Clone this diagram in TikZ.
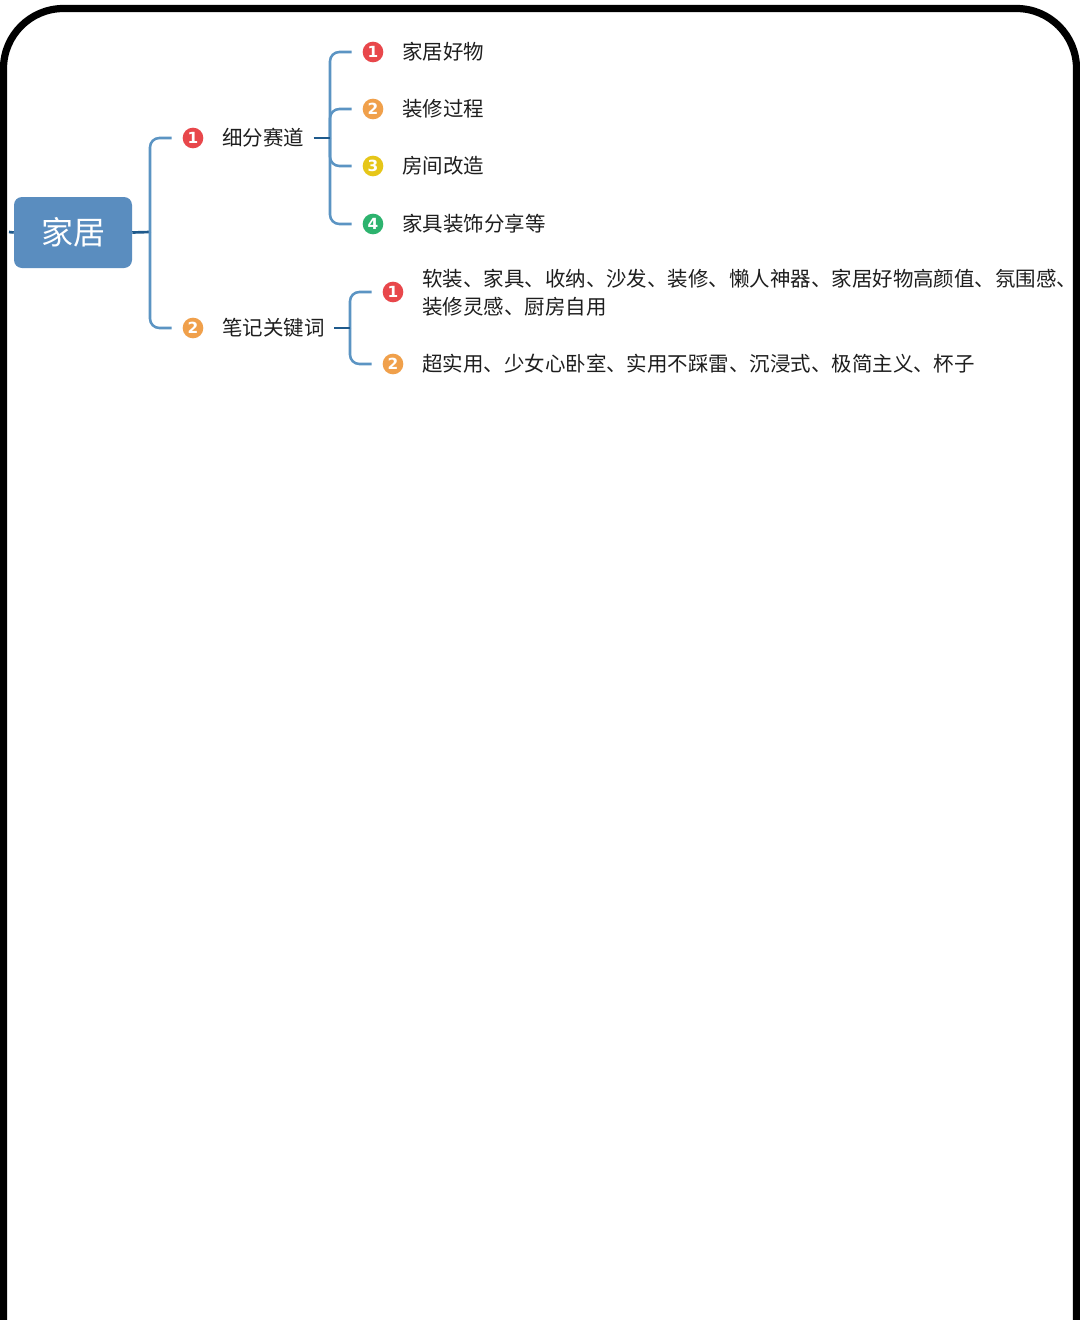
\documentclass[tikz,border=0pt]{standalone}
\usepackage{fontspec}
\setmainfont{Noto Sans CJK SC}
\newfontfamily\digitfont{DejaVu Sans}
\definecolor{rootfill}{HTML}{5A8DBF}
\definecolor{brblue}{HTML}{5B94C3}
\definecolor{stubblue}{HTML}{1F5A8C}
\definecolor{bred}{HTML}{E8474B}
\definecolor{borange}{HTML}{F0A04B}
\definecolor{byellow}{HTML}{E6C619}
\definecolor{bgreen}{HTML}{2DB36E}
\definecolor{txtcol}{HTML}{1E1E1E}
\begin{document}
\begin{tikzpicture}[x=0.75pt,y=-0.75pt,
  txt/.style={anchor=west,inner sep=0pt,text=txtcol,font=\fontsize{15.35pt}{21pt}\selectfont},
  badge/.style={circle,fill=#1,minimum size=15.5pt,inner sep=0pt,text=white,font=\digitfont\bfseries\fontsize{11.5pt}{11.5pt}\selectfont},
  rootbox/.style={rounded corners=6pt,fill=rootfill,minimum width=88.5pt,minimum height=53.25pt,inner sep=0pt,text=white,font=\fontsize{24pt}{28pt}\selectfont},
  br/.style={draw=brblue,line width=1.9pt,rounded corners=7pt},
  stub/.style={draw=stubblue,line width=2pt},
  frame/.style={draw=black,line width=5.4pt,rounded corners=45pt}]
\useasboundingbox (0,0) rectangle (1080,1320);
\clip (0,0) rectangle (1080,1320);
\fill[white] (0,0) rectangle (1080,1320);

% root
\node[rootbox] (root) at (73,232.5) {家居};
\coordinate (lstub) at (9,232);
\draw[stub] (root.west) -- (lstub);

% level 1
\node[badge=bred] (b1) at (193,138) {1};
\node[txt] (t1) at (222,138) {细分赛道};
\node[badge=borange] (b2) at (193,328) {2};
\node[txt] (t2) at (222,328) {笔记关键词};

\coordinate (j0) at (150,232);
\draw[stub] (root.east) -- (j0);
\draw[br] (j0) |- ([xshift=-8pt]b1.west);
\draw[br] (j0) |- ([xshift=-8pt]b2.west);

% children of 细分赛道
\node[badge=bred] (c1) at (373,52) {1};
\node[txt] (d1) at (402,52) {家居好物};
\node[badge=borange] (c2) at (373,109) {2};
\node[txt] (d2) at (402,109) {装修过程};
\node[badge=byellow] (c3) at (373,166) {3};
\node[txt] (d3) at (402,166) {房间改造};
\node[badge=bgreen] (c4) at (373,224) {4};
\node[txt] (d4) at (402,224) {家具装饰分享等};

\coordinate (j1) at (330,138);
\draw[br] (j1) |- ([xshift=-8pt]c1.west);
\draw[br] (j1) |- ([xshift=-8pt]c2.west);
\draw[br] (j1) |- ([xshift=-8pt]c3.west);
\draw[br] (j1) |- ([xshift=-8pt]c4.west);
\draw[stub] ([xshift=7pt]t1.east) -- (j1);

% children of 笔记关键词
\node[badge=bred] (e1) at (393,292) {1};
\node[txt,align=left] (f1) at (422,293) {软装、家具、收纳、沙发、装修、懒人神器、家居好物高颜值、氛围感、\\装修灵感、厨房自用};
\node[badge=borange] (e2) at (393,364) {2};
\node[txt] (f2) at (422,364) {超实用、少女心卧室、实用不踩雷、沉浸式、极简主义、杯子};

\coordinate (j2) at (350,328);
\draw[br] (j2) |- ([xshift=-8pt]e1.west);
\draw[br] (j2) |- ([xshift=-8pt]e2.west);
\draw[stub] ([xshift=7pt]t2.east) -- (j2);

% frame
\draw[frame] (3.5,1420) -- (3.5,8.5) -- (1076.5,8.5) -- (1076.5,1420);
\end{tikzpicture}
\end{document}
